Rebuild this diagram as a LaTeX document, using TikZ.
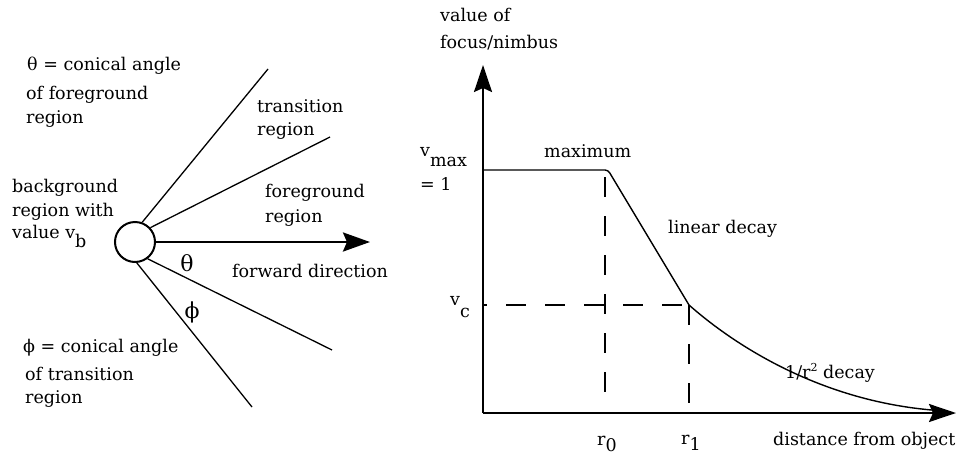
\documentclass[tikz,border=0pt]{standalone}
\usepackage{fontspec}
\setmainfont{DejaVu Serif}
\usetikzlibrary{arrows.meta}
\begin{document}
\begin{tikzpicture}[x=1pt,y=-1pt,
  lbl/.style={inner sep=0pt, anchor=base west, font=\fontsize{17.5}{21}\selectfont},
  sym/.style={inner sep=0pt, anchor=center, font=\fontsize{22}{26}\selectfont},
  ray/.style={line width=1.3pt},
  axisline/.style={line width=2.2pt, -{Stealth[length=27pt,width=18pt,inset=4pt]}},
  fwdline/.style={line width=2.8pt, -{Stealth[length=27pt,width=19pt,inset=4pt]}},
  curveline/.style={line width=1.4pt},
  dashline/.style={line width=1.4pt, dash pattern=on 20pt off 19pt},
]
\useasboundingbox (0,0) rectangle (965,455);

% ---------- left diagram ----------
\node[circle, draw, line width=2pt, minimum size=40pt, inner sep=0pt] (c) at (135,242) {};
\coordinate (e1) at (268,69);
\coordinate (e2) at (330,137);
\coordinate (e3) at (332,350);
\coordinate (e4) at (252,407);
\coordinate (fwdtip) at (370,242);
\draw[ray] (c.70) -- (e1);
\draw[ray] (c.43) -- (e2);
\draw[ray] (c.-53) -- (e3);
\draw[ray] (c.-85) -- (e4);
\draw[fwdline] (c.east) -- (fwdtip);

\node[lbl] (t1a) at (27,70) {θ = conical angle};
\node[lbl] (t1b) at (26,99) {of foreground};
\node[lbl] (t1c) at (26,123) {region};
\node[lbl] (tr1) at (257,112) {transition};
\node[lbl] (tr2) at (257,135) {region};
\node[lbl] (bg1) at (12,192) {background};
\node[lbl] (bg2) at (12,216) {region with};
\node[lbl] (bg3) at (12,238) {value v\raisebox{-9pt}{b}};
\node[lbl] (fg1) at (265,197) {foreground};
\node[lbl] (fg2) at (265,222) {region};
\node[lbl] (fwd) at (232,277) {forward direction};
\node[sym] (th) at (187,263) {θ};
\node[sym] (ph) at (192,312) {ϕ};
\node[lbl] (p1) at (23,352) {ϕ = conical angle};
\node[lbl] (p2) at (25,380) {of transition};
\node[lbl] (p3) at (25,403) {region};

% ---------- right diagram ----------
\coordinate (O) at (483,413);
\coordinate (ytip) at (483,65);
\coordinate (xtip) at (956,413);
\coordinate (A) at (483,170);
\coordinate (B) at (608,170);
\coordinate (C) at (689,305);
\coordinate (D) at (946,411);
\coordinate (vcl) at (483,305);
\coordinate (r0t) at (605,177);
\coordinate (r0b) at (605,402);
\coordinate (r1b) at (689,409);

\draw[axisline] (O) -- (ytip);
\draw[axisline] (O) -- (xtip);
\draw[curveline, rounded corners=3pt] (A) -- (B) -- (C);
\draw[curveline] (C) .. controls (740,350) and (830,405) .. (D);
\draw[dashline, dash phase=16pt] (vcl) -- (C);
\draw[dashline] (r0t) -- (r0b);
\draw[dashline] (C) -- (r1b);

\node[lbl] (val1) at (440,21) {value of};
\node[lbl] (val2) at (440,48) {focus/nimbus};
\node[lbl] (vmax) at (420,156) {v\raisebox{-10pt}{max}};
\node[lbl] (eq1) at (420,190) {= 1};
\node[lbl] (maxi) at (544,157) {maximum};
\node[lbl] (lin) at (668,233) {linear decay};
\node[lbl] (vc) at (450,305) {v\raisebox{-12pt}{c}};
\node[lbl] (inv) at (785,378) {1/r\raisebox{7pt}{\fontsize{11}{11}\selectfont 2} decay};
\node[lbl] (r0) at (597,445) {r\raisebox{-6pt}{0}};
\node[lbl] (r1) at (681,444) {r\raisebox{-6pt}{1}};
\node[lbl] (dist) at (773,445) {distance from object};
\end{tikzpicture}
\end{document}
